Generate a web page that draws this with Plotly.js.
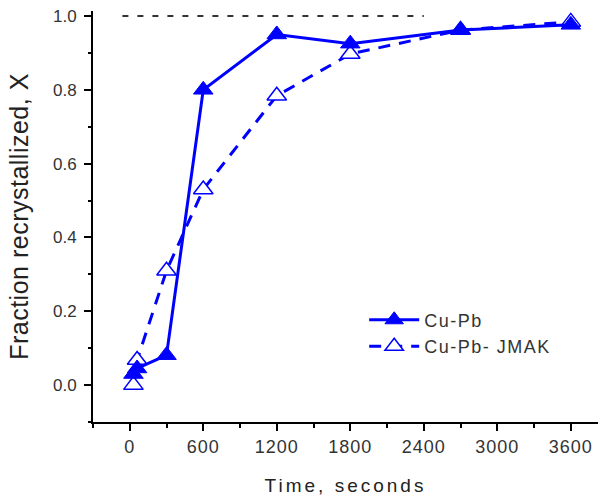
<!DOCTYPE html>
<html>
<head>
<meta charset="utf-8">
<script src="https://cdn.plot.ly/plotly-3.0.1.min.js"></script>
<style>
html, body { margin: 0; padding: 0; background: #fff; }
#chart { width: 598px; height: 497px; }
.xtick text { letter-spacing: 1px; }
.g-xtitle text { letter-spacing: 3px; }
.g-ytitle text { letter-spacing: 0.5px; }
.legendtext { letter-spacing: 1.5px; }
</style>
</head>
<body>
<div id="chart"></div>
<script>
// Measured data (time in seconds, fraction recrystallized X)
const cuPbTime = [30, 60, 300, 600, 1200, 1800, 2700, 3600];
const cuPbX    = [0.03, 0.045, 0.081, 0.80, 0.95, 0.925, 0.962, 0.976];

const jmakTime = [30, 60, 300, 600, 1200, 1800, 2700, 3600];
const jmakX    = [0.0, 0.068, 0.31, 0.53, 0.784, 0.897, 0.962, 0.984];

// reference line X = 1.0
const refTime = [-60, 2400];
const refX    = [1.0, 1.0];

const xTickVals = [0, 600, 1200, 1800, 2400, 3000, 3600];
const yTickVals = [0.0, 0.2, 0.4, 0.6, 0.8, 1.0];
const yTickText = ['0.0', '0.2', '0.4', '0.6', '0.8', '1.0'];

const blue = '#0000ff';

const traces = [
  {
    x: refTime, y: refX, mode: 'lines', showlegend: false, hoverinfo: 'skip',
    line: { color: '#333333', width: 2, dash: '6px,9px' }
  },
  {
    x: jmakTime, y: jmakX, mode: 'lines+markers', name: 'Cu-Pb- JMAK',
    line: { color: blue, width: 3, dash: '12px,9px' },
    marker: { symbol: 'triangle-up', size: 17, color: '#ffffff', line: { color: blue, width: 1.5 } }
  },
  {
    x: cuPbTime, y: cuPbX, mode: 'lines+markers', name: 'Cu-Pb',
    line: { color: blue, width: 3 },
    marker: { symbol: 'triangle-up', size: 17, color: blue, line: { color: blue, width: 1 } }
  }
];

const layout = {
  width: 598, height: 497,
  margin: { l: 93, r: 0, t: 11, b: 75 },
  paper_bgcolor: '#ffffff', plot_bgcolor: '#ffffff',
  font: { family: 'Liberation Sans, Arial, sans-serif', color: '#333333' },
  showlegend: true,
  legend: {
    x: 0.537, y: 0.293, xanchor: 'left', yanchor: 'top',
    bgcolor: 'rgba(0,0,0,0)', borderwidth: 0,
    font: { size: 18, color: '#333333' },
    traceorder: 'reversed', itemwidth: 50
  },
  xaxis: {
    range: [-300, 3822],
    tickvals: xTickVals,
    ticks: 'outside', ticklen: 7, tickwidth: 2, tickcolor: '#000',
    showline: true, linecolor: '#000', linewidth: 2,
    showgrid: false, zeroline: false,
    tickfont: { size: 18, color: '#333333' },
    minor: { dtick: 300, tick0: 0, ticks: 'outside', ticklen: 4, tickwidth: 2, tickcolor: '#000', showgrid: false },
    title: { text: 'Time, seconds', font: { size: 19, color: '#222222' }, standoff: 23 }
  },
  yaxis: {
    range: [-0.1, 1.0135],
    tickvals: yTickVals, ticktext: yTickText,
    ticks: 'outside', ticklen: 7, tickwidth: 2, tickcolor: '#000',
    showline: true, linecolor: '#000', linewidth: 2,
    showgrid: false, zeroline: false,
    ticklabelstandoff: 4,
    tickfont: { size: 17, color: '#333333' },
    minor: { dtick: 0.1, tick0: 0, ticks: 'outside', ticklen: 3, tickwidth: 2, tickcolor: '#000', showgrid: false },
    title: { text: 'Fraction recrystallized, X\u00a0\u00a0\u00a0', font: { size: 25, color: '#222222' }, standoff: 17 }
  }
};

Plotly.newPlot('chart', traces, layout, { displayModeBar: false, staticPlot: true });
</script>
</body>
</html>
